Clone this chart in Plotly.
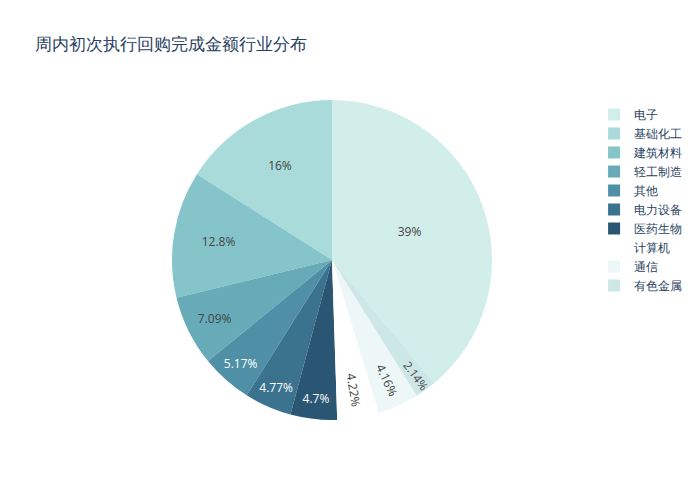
import plotly.graph_objects as go

# 行业分布（百分比）
industries = ["电子", "基础化工", "建筑材料", "轻工制造", "其他", "电力设备",
              "医药生物", "计算机", "通信", "有色金属"]
shares = [38.97, 16.0, 12.8, 7.09, 5.17, 4.77, 4.70, 4.22, 4.16, 2.14]
colors = ["rgb(209,238,234)", "rgb(168,219,217)", "rgb(133,196,201)",
          "rgb(104,171,184)", "rgb(79,144,166)", "rgb(59,115,143)",
          "rgb(42,86,116)", "#ffffff", "#eef7f7", "#cde6e6"]

fig = go.Figure()
fig.add_trace(go.Pie(
    labels=industries,
    values=shares,
    marker=dict(colors=colors),
    textinfo="percent",
    textposition="inside",
))
fig.update_layout(
    title=dict(text="周内初次执行回购完成金额行业分布"),
    width=700,
    height=500,
    template="plotly_white",
)
# drop the page's default body margin so the figure sits at the window corner
fig.write_html("out.html", config={"displayModeBar": False},
               post_script="document.body.style.margin='0';")
